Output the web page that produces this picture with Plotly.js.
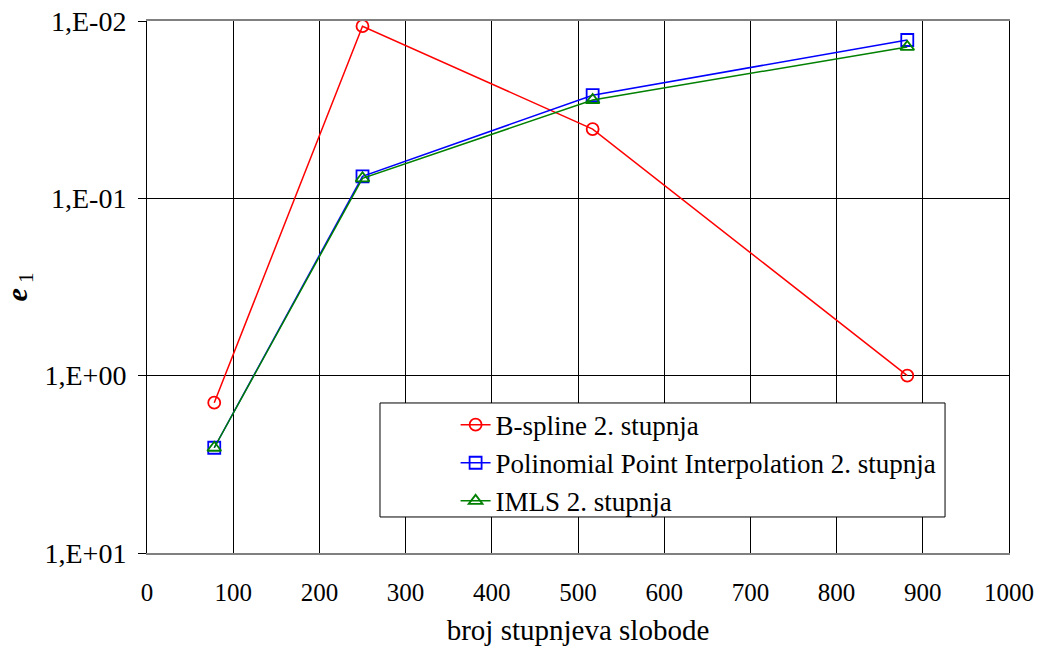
<!DOCTYPE html>
<html>
<head>
<meta charset="utf-8">
<script src="https://cdn.plot.ly/plotly-3.0.1.min.js"></script>
</head>
<body style="margin:0;background:#fff">
<div id="chart" style="width:1040px;height:646px"></div>
<script>
const dofs = [78, 250, 517, 882];
const bspline = [1.42, 0.0107, 0.0407, 1.0];
const ppi = [2.55, 0.0752, 0.0262, 0.0128];
const imls = [2.55, 0.0771, 0.0279, 0.0140];
const names = ['B-spline 2. stupnja', 'Polinomial Point Interpolation 2. stupnja', 'IMLS 2. stupnja'];
const yTickVals = [0.01, 0.1, 1, 10];
const yTickText = ['1,E-02', '1,E-01', '1,E+00', '1,E+01'];
const xTickVals = [0, 100, 200, 300, 400, 500, 600, 700, 800, 900, 1000];

const SERIF = '"Liberation Serif", serif';
function tr(y, name, color, symbol, g) {
  return {
    x: dofs, y: y, name: name, type: 'scatter', mode: 'lines+markers',
    legendgroup: g,
    line: {color: color, width: 1.5},
    marker: {symbol: symbol, size: 12, color: color, line: {color: color, width: 1.8}}
  };
}
const data = [
  tr(bspline, names[0], '#ff0000', 'circle-open', 'a'),
  tr(ppi, names[1], '#0000ff', 'square-open', 'b'),
  tr(imls, names[2], '#008000', 'triangle-up-open', 'c')
];
const layout = {
  width: 1040, height: 646,
  margin: {l: 147, r: 31, t: 21, b: 93},
  paper_bgcolor: '#fff', plot_bgcolor: '#fff',
  font: {family: SERIF, size: 25, color: '#000'},
  showlegend: true,
  xaxis: {
    range: [0, 1000], tickvals: xTickVals, ticks: '',
    showgrid: true, gridcolor: '#000', gridwidth: 1,
    zeroline: false, showline: true, linecolor: '#808080', linewidth: 2, mirror: true,
    ticklabelstandoff: 16,
    tickfont: {family: SERIF, size: 25, color: '#000'},
    title: {text: 'broj stupnjeva slobode', font: {family: SERIF, size: 29, color: '#000'}, standoff: 16}
  },
  yaxis: {
    type: 'log', range: [1, -2], tickvals: yTickVals, ticktext: yTickText,
    ticks: 'outside', ticklen: 8, tickcolor: '#000',
    showgrid: true, gridcolor: '#000', gridwidth: 1,
    zeroline: false, showline: true, linecolor: '#000', linewidth: 1, mirror: true,
    ticklabelstandoff: 6,
    tickfont: {family: SERIF, size: 28, color: '#000'},
    title: {text: '<b><i>e</i></b><sub> 1</sub>', font: {family: SERIF, size: 30, color: '#000'}, standoff: 16}
  },
  legend: {
    x: 0.358, y: 0.2865, xanchor: 'left', yanchor: 'top',
    bgcolor: 'rgba(0,0,0,0)', borderwidth: 0,
    traceorder: 'grouped', tracegroupgap: 0,
    font: {family: SERIF, size: 27, color: '#000'}
  },
  shapes: [{
    type: 'rect', xref: 'paper', yref: 'paper',
    x0: 0.2703, x1: 0.9258, y0: 0.0677, y1: 0.282,
    line: {color: '#000', width: 1}, fillcolor: '#fff', layer: 'above'
  }]
};
Plotly.newPlot('chart', data, layout, {displayModeBar: false});
</script>
</body>
</html>
